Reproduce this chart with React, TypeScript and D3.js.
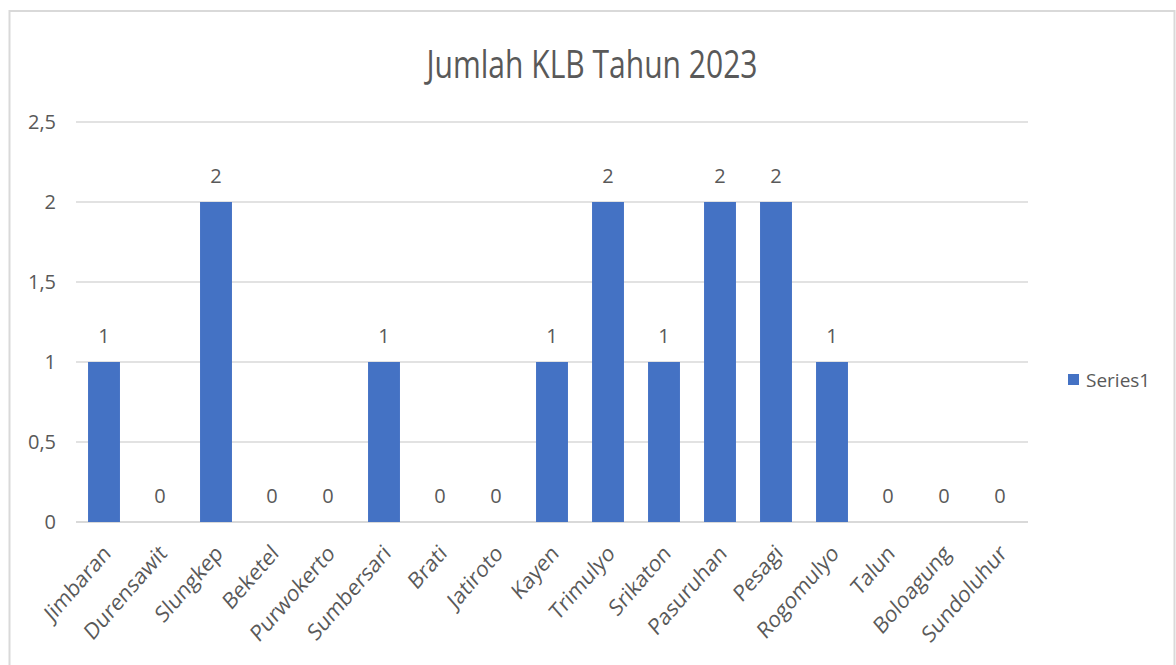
import React, { useEffect, useRef } from "react";
import * as d3 from "d3";

const title = "Jumlah KLB Tahun 2023";
const categories = [
  "Jimbaran", "Durensawit", "Slungkep", "Beketel", "Purwokerto", "Sumbersari",
  "Brati", "Jatiroto", "Kayen", "Trimulyo", "Srikaton", "Pasuruhan", "Pesagi",
  "Rogomulyo", "Talun", "Boloagung", "Sundoluhur",
];
const values = [1, 0, 2, 0, 0, 1, 0, 0, 1, 2, 1, 2, 2, 1, 0, 0, 0];
const yTicks = [0, 0.5, 1, 1.5, 2, 2.5];
const seriesName = "Series1";

const W = 1176;
const H = 665;
const FONT = "'Open Sans', 'Noto Sans', sans-serif";
const TEXT = "#595959";
const GRID = "#d9d9d9";
const BAR = "#4472C4";

export default function App() {
  const ref = useRef<SVGSVGElement | null>(null);

  useEffect(() => {
    const svg = d3.select(ref.current);
    svg.selectAll("*").remove();

    const left = 76, right = 1028, top = 122, bottom = 522;
    const x = d3.scaleBand<string>().domain(categories).range([left, right]).paddingInner(0.43).paddingOuter(0.215);
    const y = d3.scaleLinear().domain([0, 2.5]).range([bottom, top]);
    const fmt = (v: number) => String(v).replace(".", ",");

    svg.append("rect").attr("x", 0).attr("y", 0).attr("width", W).attr("height", H).attr("fill", "#fff");
    // chart border
    svg.append("rect").attr("x", 9.5).attr("y", 11).attr("width", 1165).attr("height", 700)
      .attr("fill", "#fff").attr("stroke", GRID).attr("stroke-width", 2);

    // title
    svg.append("text").attr("x", 592).attr("y", 78).attr("text-anchor", "middle")
      .attr("font-family", FONT).attr("font-size", 38).attr("fill", TEXT)
      .attr("textLength", 331).attr("lengthAdjust", "spacingAndGlyphs").text(title);

    // gridlines
    svg.append("g").selectAll("line").data(yTicks).join("line")
      .attr("x1", left).attr("x2", right)
      .attr("y1", (d) => y(d)).attr("y2", (d) => y(d))
      .attr("stroke", GRID).attr("stroke-width", (d) => (d === 0 ? 2 : 1.5));

    // y tick labels
    svg.append("g").selectAll("text").data(yTicks).join("text")
      .attr("x", 56).attr("y", (d) => y(d)).attr("dy", "0.36em").attr("text-anchor", "end")
      .attr("font-family", FONT).attr("font-size", 20).attr("fill", TEXT).text((d) => fmt(d));

    // bars
    svg.append("g").selectAll("rect").data(values).join("rect")
      .attr("x", (_, i) => x(categories[i])!).attr("width", x.bandwidth())
      .attr("y", (d) => y(d)).attr("height", (d) => bottom - y(d)).attr("fill", BAR);

    // data labels
    svg.append("g").selectAll("text").data(values).join("text")
      .attr("x", (_, i) => x(categories[i])! + x.bandwidth() / 2).attr("y", (d) => y(d) - 19)
      .attr("text-anchor", "middle").attr("font-family", FONT).attr("font-size", 20).attr("fill", TEXT)
      .text((d) => fmt(d));

    // category labels
    svg.append("g").selectAll("text").data(categories).join("text")
      .attr("transform", (c) => `translate(${x(c)! + x.bandwidth() / 2 + 3},${549}) scale(0.87,1) rotate(-45)`)
      .attr("text-anchor", "end").attr("dy", "0.35em")
      .attr("font-family", FONT).attr("font-size", 23).attr("fill", TEXT).text((c) => c);

    // legend
    svg.append("rect").attr("x", 1068).attr("y", 374).attr("width", 11).attr("height", 11).attr("fill", BAR);
    svg.append("text").attr("x", 1086).attr("y", 380).attr("dy", "0.36em")
      .attr("font-family", FONT).attr("font-size", 19).attr("fill", TEXT).text(seriesName);
  }, []);

  return (
    <svg ref={ref} width={W} height={H} style={{ position: "absolute", left: 0, top: 0, display: "block" }} />
  );
}
